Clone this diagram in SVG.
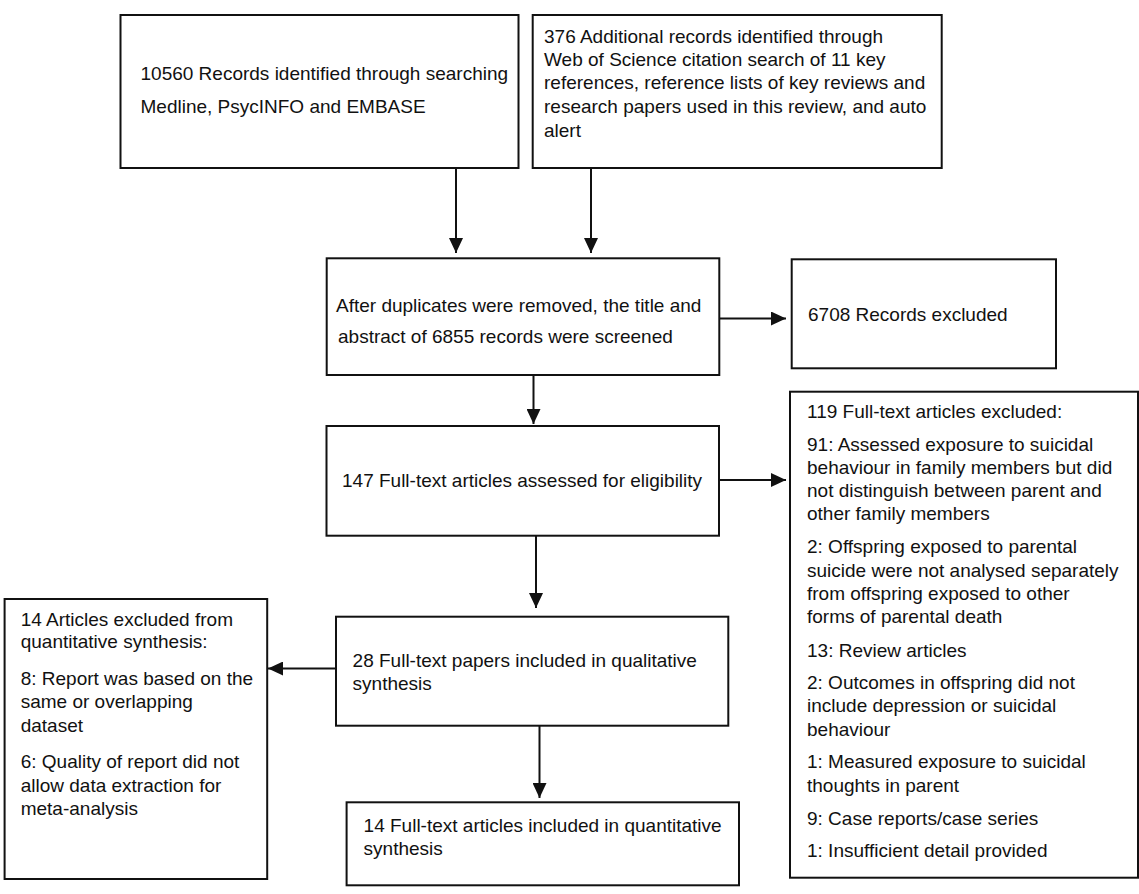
<svg xmlns="http://www.w3.org/2000/svg" width="1139" height="894" viewBox="0 0 1139 894">
<defs>
<style>
.box{fill:#fff;stroke:#111;stroke-width:2}
.t{font-family:"Liberation Sans",Arial,sans-serif;font-size:19px;fill:#111}
.c{stroke:#111;stroke-width:2;fill:none}
</style>
<marker id="ah" markerUnits="userSpaceOnUse" markerWidth="15" markerHeight="14" refX="15" refY="7" orient="auto">
<path d="M0,0 L15,7 L0,14 z" fill="#111"/>
</marker>
</defs>
<rect width="1139" height="894" fill="#fff"/>
<g id="connectors">
<line class="c" x1="456" y1="168" x2="456" y2="253" marker-end="url(#ah)"/>
<line class="c" x1="591" y1="168" x2="591" y2="253" marker-end="url(#ah)"/>
<line class="c" x1="719" y1="318.5" x2="786" y2="318.5" marker-end="url(#ah)"/>
<line class="c" x1="533.5" y1="375" x2="533.5" y2="424" marker-end="url(#ah)"/>
<line class="c" x1="719" y1="480" x2="786" y2="480" marker-end="url(#ah)"/>
<line class="c" x1="536" y1="536" x2="536" y2="608" marker-end="url(#ah)"/>
<line class="c" x1="336" y1="668.5" x2="268" y2="668.5" marker-end="url(#ah)"/>
<line class="c" x1="539.5" y1="726" x2="539.5" y2="798" marker-end="url(#ah)"/>
</g>
<g id="n1">
<rect class="box" x="120.5" y="15" width="398" height="153"/>
<text class="t" x="140.5" y="79.5">10560 Records identified through searching</text>
<text class="t" x="140.5" y="112.7">Medline, PsycINFO and EMBASE</text>
</g>
<g id="n2">
<rect class="box" x="532.7" y="15" width="409" height="153"/>
<text class="t" x="544" y="42.7">376 Additional records identified through</text>
<text class="t" x="544" y="66">Web of Science citation search of 11 key</text>
<text class="t" x="544" y="89.3">references, reference lists of key reviews and</text>
<text class="t" x="544" y="112.7">research papers used in this review, and auto</text>
<text class="t" x="544" y="136.5">alert</text>
</g>
<g id="n3">
<rect class="box" x="326.7" y="258.3" width="392.6" height="116.7"/>
<text class="t" x="336" y="312">After duplicates were removed, the title and</text>
<text class="t" x="338" y="343">abstract of 6855 records were screened</text>
</g>
<g id="n4">
<rect class="box" x="791.7" y="259.3" width="264.3" height="109"/>
<text class="t" x="808" y="321">6708 Records excluded</text>
</g>
<g id="n5">
<rect class="box" x="326.5" y="426" width="392.5" height="109.7"/>
<text class="t" x="342" y="486.7">147 Full-text articles assessed for eligibility</text>
</g>
<g id="n6">
<rect class="box" x="790" y="391.7" width="348" height="486"/>
<text class="t" x="807" y="418.3">119 Full-text articles excluded:</text>
<text class="t" x="807" y="450.5">91: Assessed exposure to suicidal</text>
<text class="t" x="807" y="473.8">behaviour in family members but did</text>
<text class="t" x="807" y="497.1">not distinguish between parent and</text>
<text class="t" x="807" y="520.4">other family members</text>
<text class="t" x="807" y="553.3">2: Offspring exposed to parental</text>
<text class="t" x="807" y="576.5">suicide were not analysed separately</text>
<text class="t" x="807" y="599.7">from offspring exposed to other</text>
<text class="t" x="807" y="623">forms of parental death</text>
<text class="t" x="807" y="656.5">13: Review articles</text>
<text class="t" x="807" y="689">2: Outcomes in offspring did not</text>
<text class="t" x="807" y="712.3">include depression or suicidal</text>
<text class="t" x="807" y="735.6">behaviour</text>
<text class="t" x="807" y="768">1: Measured exposure to suicidal</text>
<text class="t" x="807" y="791.5">thoughts in parent</text>
<text class="t" x="807" y="824.5">9: Case reports/case series</text>
<text class="t" x="807" y="856.5">1: Insufficient detail provided</text>
</g>
<g id="n7">
<rect class="box" x="336" y="616.7" width="392.3" height="109"/>
<text class="t" x="352.6" y="666.7">28 Full-text papers included in qualitative</text>
<text class="t" x="352.6" y="690">synthesis</text>
</g>
<g id="n8">
<rect class="box" x="4.6" y="599" width="262.6" height="280"/>
<text class="t" x="20.7" y="626">14 Articles excluded from</text>
<text class="t" x="20.7" y="648.3">quantitative synthesis:</text>
<text class="t" x="20.7" y="685">8: Report was based on the</text>
<text class="t" x="20.7" y="708.3">same or overlapping</text>
<text class="t" x="20.7" y="731.7">dataset</text>
<text class="t" x="20.7" y="768.3">6: Quality of report did not</text>
<text class="t" x="20.7" y="791.7">allow data extraction for</text>
<text class="t" x="20.7" y="815">meta-analysis</text>
</g>
<g id="n9">
<rect class="box" x="346.6" y="802.3" width="392.4" height="83"/>
<text class="t" x="363.6" y="831.7">14 Full-text articles included in quantitative</text>
<text class="t" x="363.6" y="855">synthesis</text>
</g>
</svg>
